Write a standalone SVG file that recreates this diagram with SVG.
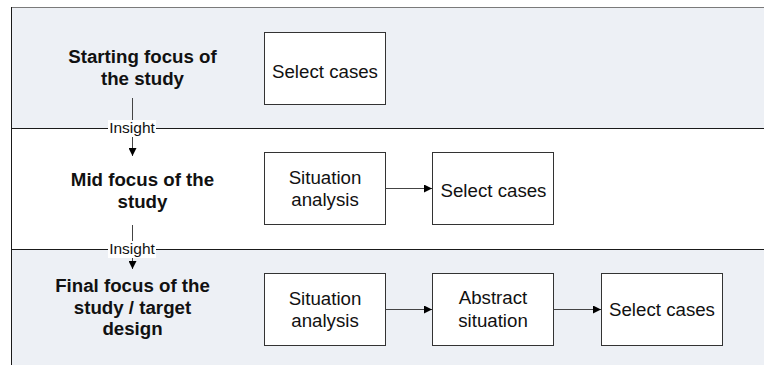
<svg xmlns="http://www.w3.org/2000/svg" width="764" height="365" viewBox="0 0 764 365">
  <style>
    .band-tint { fill: #edf0f5; }
    .band-plain { fill: #ffffff; }
    .divider { stroke: #1a1a1a; stroke-width: 1; }
    .box { fill: #ffffff; stroke: #333333; stroke-width: 1; }
    .lane { font-family: "Liberation Sans", Arial, sans-serif; font-weight: bold; font-size: 18.7px; fill: #111111; text-anchor: middle; }
    .label { font-family: "Liberation Sans", Arial, sans-serif; font-size: 18.7px; fill: #111111; text-anchor: middle; }
    .insight { font-family: "Liberation Sans", Arial, sans-serif; font-size: 15.5px; fill: #111111; text-anchor: middle; }
    .conn { stroke: #444444; stroke-width: 1; fill: none; }
  </style>
  <defs>
    <marker id="head" viewBox="0 0 10 10" refX="10" refY="5" markerWidth="9" markerHeight="8" markerUnits="userSpaceOnUse" orient="auto">
      <path d="M0,0 L10,5 L0,10 Z" fill="#000000"/>
    </marker>
    <marker id="headDown" viewBox="0 0 10 10" refX="10" refY="5" markerWidth="8" markerHeight="8" markerUnits="userSpaceOnUse" orient="auto">
      <path d="M0,0 L10,5 L0,10 Z" fill="#000000"/>
    </marker>
  </defs>

  <!-- swimlane backgrounds -->
  <g id="lanes">
    <rect class="band-tint" x="11.5" y="7.5" width="753" height="121"/>
    <rect class="band-plain" x="11.5" y="128.5" width="753" height="121"/>
    <rect class="band-tint" x="11.5" y="249.5" width="753" height="116"/>
    <line x1="11.5" y1="7.5" x2="764" y2="7.5" stroke="#7a7a7a" stroke-width="1"/>
    <line x1="11.5" y1="7" x2="11.5" y2="365" stroke="#1a1a1a" stroke-width="1"/>
    <line class="divider" x1="11.5" y1="128.5" x2="764" y2="128.5"/>
    <line class="divider" x1="11.5" y1="249.5" x2="764" y2="249.5"/>
  </g>

  <!-- lane titles -->
  <g id="lane-start">
    <text class="lane" x="142.5" y="63">Starting focus of</text>
    <text class="lane" x="142.5" y="85">the study</text>
  </g>
  <g id="lane-mid">
    <text class="lane" x="142.5" y="186">Mid focus of the</text>
    <text class="lane" x="142.5" y="207.5">study</text>
  </g>
  <g id="lane-final">
    <text class="lane" x="132.5" y="292">Final focus of the</text>
    <text class="lane" x="132.5" y="313.5">study / target</text>
    <text class="lane" x="132.5" y="335">design</text>
  </g>

  <!-- process boxes -->
  <g id="start-select">
    <rect class="box" x="264.5" y="32.5" width="121" height="72"/>
    <text class="label" x="325" y="78">Select cases</text>
  </g>
  <g id="mid-situation">
    <rect class="box" x="264.5" y="152.5" width="121" height="72"/>
    <text class="label" x="325" y="184">Situation</text>
    <text class="label" x="325" y="206">analysis</text>
  </g>
  <g id="mid-select">
    <rect class="box" x="432.5" y="152.5" width="121" height="72"/>
    <text class="label" x="493.5" y="196.5">Select cases</text>
  </g>
  <g id="final-situation">
    <rect class="box" x="264.5" y="273.5" width="121" height="72"/>
    <text class="label" x="325" y="305">Situation</text>
    <text class="label" x="325" y="327">analysis</text>
  </g>
  <g id="final-abstract">
    <rect class="box" x="432.5" y="273.5" width="121" height="72"/>
    <text class="label" x="493" y="304">Abstract</text>
    <text class="label" x="493" y="326.5">situation</text>
  </g>
  <g id="final-select">
    <rect class="box" x="601.5" y="273.5" width="121" height="72"/>
    <text class="label" x="662" y="316">Select cases</text>
  </g>

  <!-- connectors -->
  <g id="connectors">
    <line class="conn" x1="385.5" y1="188.5" x2="432" y2="188.5" marker-end="url(#head)"/>
    <line class="conn" x1="385.5" y1="309.5" x2="432" y2="309.5" marker-end="url(#head)"/>
    <line class="conn" x1="553.5" y1="309.5" x2="601" y2="309.5" marker-end="url(#head)"/>

    <line class="conn" x1="132.5" y1="98" x2="132.5" y2="156" marker-end="url(#headDown)"/>
    <rect x="108" y="120" width="48" height="17" fill="#ffffff"/>
    <text class="insight" x="132" y="133">Insight</text>

    <line class="conn" x1="132.5" y1="225" x2="132.5" y2="269" marker-end="url(#headDown)"/>
    <rect x="108" y="241" width="48" height="17" fill="#ffffff"/>
    <text class="insight" x="132" y="254">Insight</text>
  </g>
</svg>
